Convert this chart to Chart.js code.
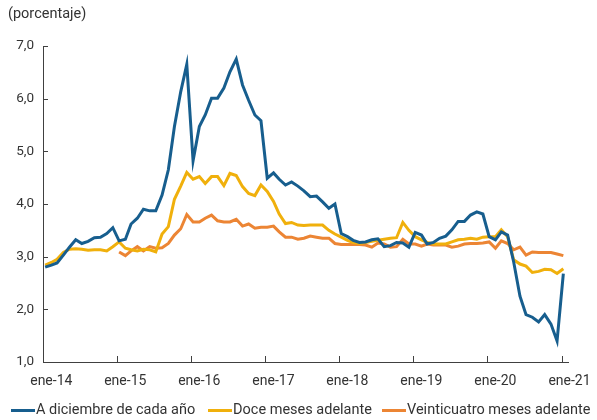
<!DOCTYPE html>
<html><head><meta charset="utf-8">
<script src="https://cdn.jsdelivr.net/npm/chart.js@4.4.1/dist/chart.umd.min.js"></script>
<style>
html,body{margin:0;padding:0;background:#fff;}
#wrap{position:relative;width:597px;height:420px;font-family:Roboto,"Noto Sans",sans-serif;color:#333;}
#c{position:absolute;left:0;top:0;}
#title{position:absolute;left:8px;top:5px;font-size:14.5px;line-height:18px;}
.lg{position:absolute;top:401px;height:18px;font-size:14.5px;line-height:18px;white-space:nowrap;display:flex;align-items:center;}
.lg i{display:inline-block;width:24px;height:3px;margin-right:1px;}
</style></head><body>
<div id="wrap"><canvas id="c" width="597" height="420"></canvas>
<div id="title">(porcentaje)</div>
<div id="legend"></div>
</div>
<script>
// Categories: monthly, ene-2014 .. ene-2021
const startYear = 2014, monthCount = 85;
const months = [];
for (let k = 0; k < monthCount; k++) months.push([startYear + Math.floor(k / 12), k % 12]);

const tickYears = [2014, 2015, 2016, 2017, 2018, 2019, 2020, 2021];
const tickLabels = ["ene-14", "ene-15", "ene-16", "ene-17", "ene-18", "ene-19", "ene-20", "ene-21"];

const seriesNames = ["A diciembre de cada año", "Doce meses adelante", "Veinticuatro meses adelante"];
const seriesColors = ["#175e8e", "#f0b00c", "#ec8534"];

const diciembre = [
  2.80, 2.84, 2.88, 3.03, 3.18, 3.32, 3.25, 3.29, 3.36, 3.37, 3.44, 3.55,
  3.30, 3.33, 3.62, 3.73, 3.90, 3.87, 3.87, 4.17, 4.65, 5.47, 6.13, 6.65,
  4.82, 5.47, 5.69, 6.01, 6.01, 6.20, 6.51, 6.75, 6.26, 5.97, 5.69, 5.58,
  4.49, 4.59, 4.47, 4.36, 4.42, 4.34, 4.25, 4.14, 4.15, 4.04, 3.92, 4.00,
  3.44, 3.38, 3.31, 3.27, 3.28, 3.32, 3.34, 3.19, 3.21, 3.27, 3.26, 3.18,
  3.46, 3.41, 3.24, 3.27, 3.35, 3.39, 3.51, 3.67, 3.67, 3.79, 3.85, 3.81,
  3.38, 3.32, 3.47, 3.41, 2.90, 2.25, 1.90, 1.85, 1.76, 1.90, 1.72, 1.40,
  2.68
];
const doceMeses = [
  2.84, 2.89, 2.95, 3.08, 3.14, 3.15, 3.14, 3.12, 3.13, 3.13, 3.11, 3.19,
  3.28, 3.16, 3.13, 3.11, 3.14, 3.13, 3.09, 3.43, 3.57, 4.09, 4.34, 4.60,
  4.47, 4.52, 4.39, 4.52, 4.52, 4.35, 4.58, 4.54, 4.33, 4.20, 4.16, 4.36,
  4.24, 4.05, 3.81, 3.63, 3.65, 3.60, 3.59, 3.60, 3.60, 3.60, 3.50, 3.43,
  3.37, 3.31, 3.27, 3.25, 3.27, 3.29, 3.31, 3.33, 3.35, 3.36, 3.65, 3.50,
  3.38, 3.32, 3.27, 3.24, 3.24, 3.24, 3.28, 3.32, 3.33, 3.35, 3.33, 3.37,
  3.38, 3.38, 3.51, 3.38, 2.94, 2.86, 2.82, 2.70, 2.72, 2.76, 2.75, 2.68,
  2.77
];
const veinticuatroMeses = [
  null, null, null, null, null, null, null, null, null, null, null, null,
  3.09, 3.02, 3.11, 3.19, 3.11, 3.19, 3.16, 3.17, 3.25, 3.41, 3.53, 3.80,
  3.66, 3.66, 3.73, 3.79, 3.68, 3.66, 3.66, 3.71, 3.58, 3.62, 3.54, 3.56,
  3.56, 3.58, 3.47, 3.37, 3.37, 3.33, 3.35, 3.39, 3.37, 3.35, 3.35, 3.25,
  3.23, 3.23, 3.23, 3.23, 3.22, 3.18, 3.26, 3.24, 3.18, 3.19, 3.33, 3.24,
  3.24, 3.20, 3.24, 3.22, 3.22, 3.22, 3.18, 3.20, 3.24, 3.25, 3.25, 3.26,
  3.28, 3.16, 3.30, 3.25, 3.13, 3.18, 3.03, 3.09, 3.08, 3.08, 3.08, 3.05,
  3.02
];

const DAY = 864e5, T0 = Date.UTC(startYear, 0, 1);
const monthX = months.map(([y, m]) => (Date.UTC(y, m, 10) - T0) / DAY);
const tickX = tickYears.map(y => (Date.UTC(y, 0, 1) - T0) / DAY);
const toPts = arr => arr.map((v, i) => ({x: monthX[i], y: v}));

const allSeries = [diciembre, doceMeses, veinticuatroMeses];

// HTML legend
const legendLefts = [11, 208, 382];
const lg = document.getElementById('legend');
seriesNames.forEach((n, i) => {
  const d = document.createElement('div');
  d.className = 'lg';
  d.style.left = legendLefts[i] + 'px';
  d.innerHTML = '<i style="background:' + seriesColors[i] + '"></i><span>' + n + '</span>';
  lg.appendChild(d);
});

const inwardTicks = {
  id: 'inwardTicks',
  afterDraw(chart) {
    const {ctx, chartArea: a} = chart;
    const x = chart.scales.x, y = chart.scales.y;
    ctx.save();
    ctx.strokeStyle = '#404040';
    ctx.lineWidth = 1;
    ctx.beginPath();
    y.ticks.forEach(t => {
      const p = Math.round(y.getPixelForValue(t.value)) + 0.5;
      ctx.moveTo(a.left, p); ctx.lineTo(a.left + 5, p);
    });
    x.ticks.forEach(t => {
      const p = Math.round(x.getPixelForValue(t.value)) + 0.5;
      ctx.moveTo(p, a.bottom); ctx.lineTo(p, a.bottom - 6);
    });
    ctx.stroke();
    ctx.restore();
  }
};

Chart.defaults.font.family = 'Roboto, "Noto Sans", sans-serif';
Chart.defaults.color = '#333';

new Chart(document.getElementById('c'), {
  type: 'line',
  data: {
    datasets: allSeries.map((s, i) => ({
      label: seriesNames[i],
      data: toPts(s),
      borderColor: seriesColors[i],
      backgroundColor: seriesColors[i],
      borderWidth: 3,
      pointRadius: 0,
      tension: 0,
      spanGaps: false,
      fill: false
    }))
  },
  options: {
    responsive: false,
    animation: false,
    devicePixelRatio: 1,
    layout: {padding: {top: 46, right: 29, bottom: 0, left: 0}},
    plugins: {legend: {display: false}, title: {display: false}, tooltip: {enabled: false}},
    scales: {
      x: {
        type: 'linear',
        min: -1.5,
        max: 2589,
        afterBuildTicks: axis => { axis.ticks = tickX.map(v => ({value: v})); },
        afterFit: s => { s.height = 58; },
        ticks: {
          callback: (v, idx) => tickLabels[idx],
          autoSkip: false,
          maxRotation: 0,
          labelOffset: 8,
          padding: 11,
          font: {size: 14},
          color: '#333'
        },
        grid: {display: true, drawOnChartArea: false, drawTicks: false},
        border: {display: true, color: '#404040', width: 1}
      },
      y: {
        min: 1, max: 7,
        afterFit: s => { s.width = 43; },
        ticks: {
          stepSize: 1,
          callback: v => v.toFixed(1).replace('.', ','),
          padding: 9,
          font: {size: 13.5},
          color: '#333'
        },
        grid: {display: true, drawOnChartArea: false, drawTicks: false},
        border: {display: true, color: '#404040', width: 1}
      }
    }
  },
  plugins: [inwardTicks]
});
</script>
</body></html>
